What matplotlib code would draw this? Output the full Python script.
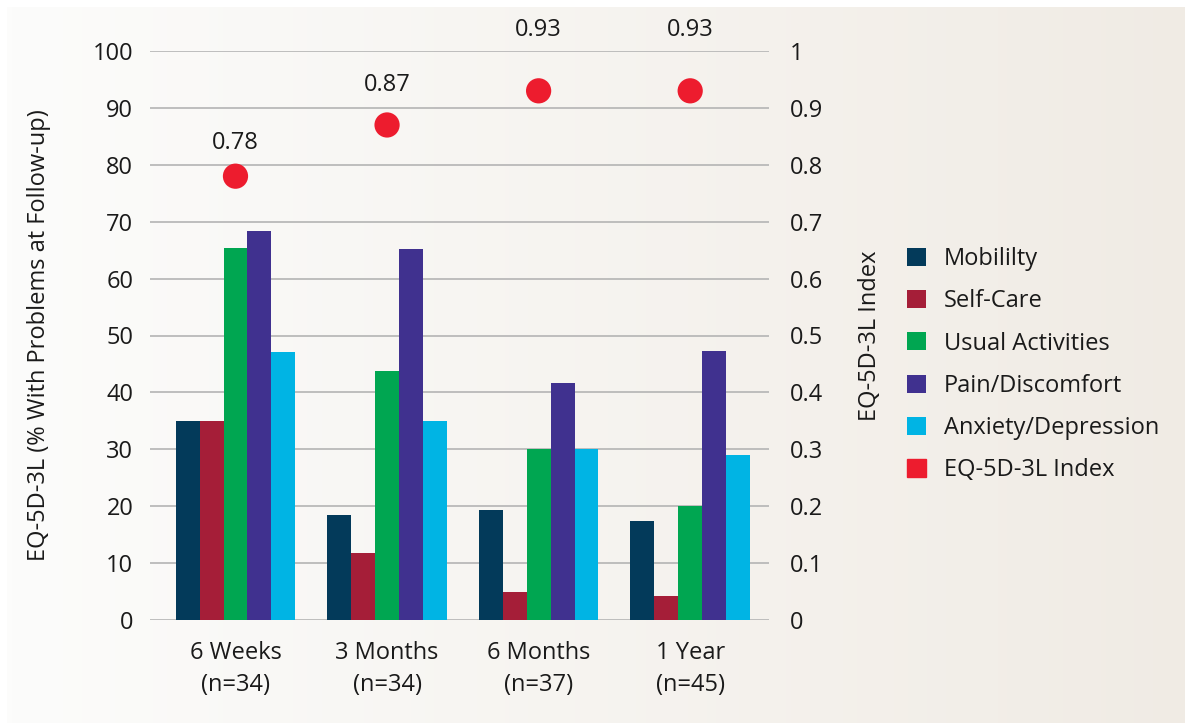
import matplotlib.pyplot as plt
import matplotlib.patches as mpatches
import numpy as np

plt.rcParams['font.family'] = ['Open Sans', 'DejaVu Sans']

# data
periods = ['6 Weeks\n(n=34)', '3 Months\n(n=34)', '6 Months\n(n=37)', '1 Year\n(n=45)']
mobility = [35.0, 18.5, 19.3, 17.4]
self_care = [35.0, 11.8, 4.9, 4.2]
usual_activities = [65.3, 43.8, 30.0, 20.0]
pain_discomfort = [68.4, 65.2, 41.6, 47.2]
anxiety_depression = [47.1, 35.0, 30.0, 29.0]
eq_index = [0.78, 0.87, 0.93, 0.93]

series = [
    ('Mobililty', mobility, '#033a5a'),
    ('Self-Care', self_care, '#a51e38'),
    ('Usual Activities', usual_activities, '#00a651'),
    ('Pain/Discomfort', pain_discomfort, '#40318f'),
    ('Anxiety/Depression', anxiety_depression, '#00b4e4'),
]
idx_color = '#ed1c2e'
txt = '#1a1a1a'
fs = 17

fig = plt.figure(figsize=(11.85, 7.23), dpi=100)

# soft off-white to beige backdrop (white margin on top and left only)
bg = fig.add_axes([7 / 1185, -0.02, 1.02 - 7 / 1185, 1.02 - 7 / 723])
grad = np.linspace(0, 1, 256).reshape(1, -1)
c0 = np.array([252, 252, 251]) / 255
c1 = np.array([240, 235, 228]) / 255
img = c0 + (c1 - c0) * grad[..., None]
bg.imshow(img, aspect='auto', extent=[0, 1, 0, 1])
bg.set_xlim(0, 1)
bg.set_ylim(0, 1)
bg.axis('off')
bg.set_zorder(-10)

ax = fig.add_axes([150 / 1185, 1 - 620 / 723, 619 / 1185, 569 / 723])
ax.patch.set_alpha(0)
x = np.arange(len(periods))
w = 0.158
for i, (name, vals, col) in enumerate(series):
    ax.bar(x + (i - 2) * w, vals, w, color=col, label=name, zorder=3)

ax.set_ylim(0, 100)
ax.set_yticks(range(0, 101, 10))
ax.set_xlim(-0.564, 3.52)
ax.set_xticks(x)
ax.set_xticklabels(periods, fontsize=fs, color=txt, linespacing=1.45)
ax.tick_params(axis='y', length=0, labelsize=fs, labelcolor=txt, pad=12)
ax.tick_params(axis='x', length=0, pad=15)
ax.grid(axis='y', color='#b4b4b4', linewidth=1.2, zorder=0)
for s in ax.spines.values():
    s.set_visible(False)
ax.set_ylabel('EQ-5D-3L (% With Problems at Follow-up)', fontsize=fs,
              color=txt, labelpad=30)

ax2 = ax.twinx()
ax2.set_ylim(0, 1)
ax2.set_yticks(np.arange(0, 1.01, 0.1))
ax2.set_yticklabels(['0'] + ['%.1f' % v for v in np.arange(0.1, 0.95, 0.1)] + ['1'])
ax2.tick_params(axis='y', length=0, labelsize=fs, labelcolor=txt, pad=15)
for s in ax2.spines.values():
    s.set_visible(False)
ax2.scatter(x, eq_index, s=330, color=idx_color, zorder=5, edgecolors='none')
label_lift = [24, 29, 44, 44]  # points above each dot
for xi, v, dy in zip(x, eq_index, label_lift):
    ax2.annotate('%.2f' % v, (xi, v), xytext=(0, dy), textcoords='offset points',
                 ha='center', va='center', fontsize=fs, color=txt)
ax2.set_ylabel('EQ-5D-3L Index', fontsize=fs, color=txt, labelpad=25)

h1, l1 = ax.get_legend_handles_labels()
handles = h1 + [mpatches.Patch(color=idx_color)]
labels = l1 + ['EQ-5D-3L Index']
fig.legend(handles, labels, loc='upper left', bbox_to_anchor=(886 / 1185, 1 - 226 / 723),
           frameon=False, fontsize=fs, handlelength=0.8, handleheight=0.8,
           handletextpad=0.75, labelspacing=0.77, labelcolor=txt)

fig.savefig('out.png', dpi=100)
